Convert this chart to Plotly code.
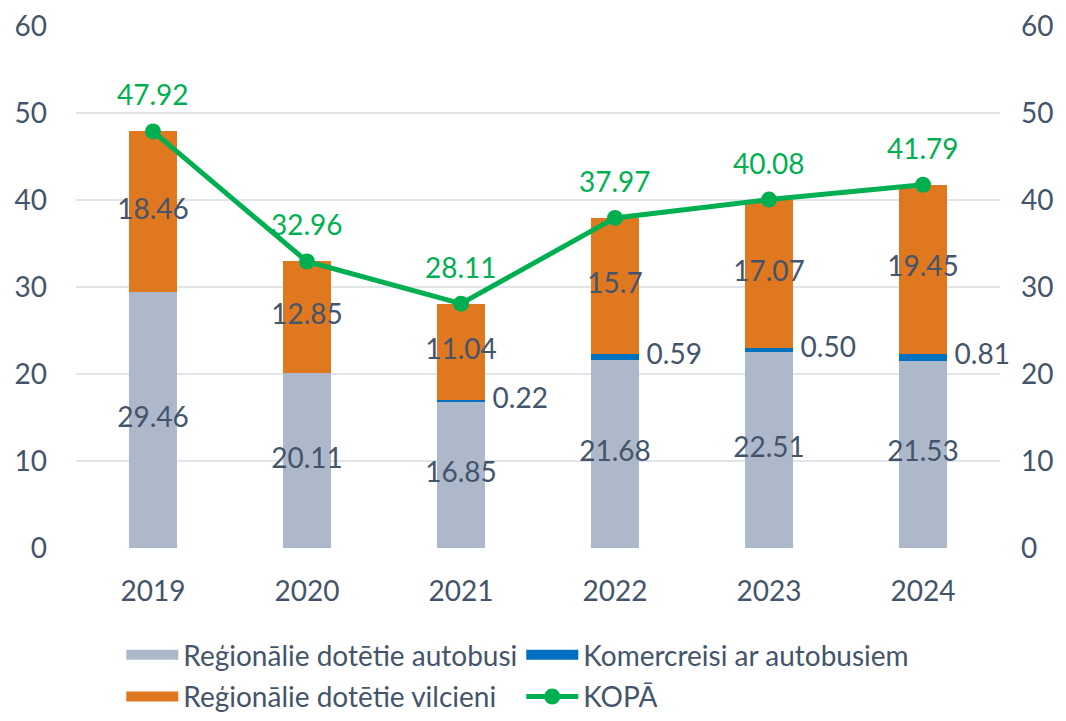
import plotly.graph_objects as go

# ---- Dati ----
gadi = ["2019", "2020", "2021", "2022", "2023", "2024"]
autobusi = [29.46, 20.11, 16.85, 21.68, 22.51, 21.53]
komercreisi = [0, 0, 0.22, 0.59, 0.50, 0.81]
vilcieni = [18.46, 12.85, 11.04, 15.7, 17.07, 19.45]
kopa = [47.92, 32.96, 28.11, 37.97, 40.08, 41.79]

# ---- Stils ----
font_family = "Lato"
text_color = "#44546A"
grid_color = "#E1E5EA"
c_bus, c_kom, c_vil, c_kopa = "#ADB9CA", "#0070C0", "#E07820", "#00B050"
bar_width = 0.31
fs = 28

x = list(range(len(gadi)))

fig = go.Figure()
fig.add_bar(x=x, y=autobusi, name="Reģionālie dotētie autobusi", showlegend=False,
            marker_color=c_bus, width=bar_width, marker_line_width=0)
fig.add_bar(x=x, y=komercreisi, name="Komercreisi ar autobusiem", showlegend=False,
            marker_color=c_kom, width=bar_width, marker_line_width=0)
fig.add_bar(x=x, y=vilcieni, name="Reģionālie dotētie vilcieni", showlegend=False,
            marker_color=c_vil, width=bar_width, marker_line_width=0)
fig.add_scatter(x=x, y=kopa, name="KOPĀ", mode="lines+markers", showlegend=False,
                line=dict(color=c_kopa, width=5), marker=dict(size=16, color=c_kopa))

# ---- Leģenda (platas krāsu joslas) ----
fig.add_scatter(x=[None], y=[None], mode="lines", name="Reģionālie dotētie autobusi",
                line=dict(color=c_bus, width=20), legend="legend")
fig.add_scatter(x=[None], y=[None], mode="lines", name="Komercreisi ar autobusiem",
                line=dict(color=c_kom, width=20), legend="legend")
fig.add_scatter(x=[None], y=[None], mode="lines", name="Reģionālie dotētie vilcieni",
                line=dict(color=c_vil, width=20), legend="legend2")
fig.add_scatter(x=[None], y=[None], mode="lines+markers", name="KOPĀ",
                line=dict(color=c_kopa, width=5), marker=dict(size=16, color=c_kopa),
                legend="legend2")

# ---- Datu etiķetes ----
fig.add_scatter(x=x, y=[a / 2 for a in autobusi], mode="text",
                text=[f"{v:.2f}" for v in autobusi], showlegend=False, hoverinfo="skip",
                textfont=dict(color=text_color, size=fs, family=font_family))
fig.add_scatter(x=x, y=[a + k + v / 2 for a, k, v in zip(autobusi, komercreisi, vilcieni)],
                mode="text", text=[f"{v:g}" if v == 15.7 else f"{v:.2f}" for v in vilcieni],
                showlegend=False, hoverinfo="skip",
                textfont=dict(color=text_color, size=fs, family=font_family))
kx = [i + bar_width / 2 + 0.05 for i, k in zip(x, komercreisi) if k > 0]
ky = [a + k / 2 for a, k in zip(autobusi, komercreisi) if k > 0]
kt = [f"{k:.2f}" for k in komercreisi if k > 0]
fig.add_scatter(x=kx, y=ky, mode="text", text=kt, textposition="middle right",
                showlegend=False, hoverinfo="skip", cliponaxis=False,
                textfont=dict(color=text_color, size=fs, family=font_family))

for i, v in zip(x, kopa):
    fig.add_annotation(x=i, y=v, text=f"{v:.2f}", showarrow=False, yshift=37,
                       font=dict(color=c_kopa, size=fs, family=font_family))

# labā ass tikai skalai
fig.add_scatter(x=[0], y=[0], yaxis="y2", mode="markers", marker_opacity=0,
                showlegend=False, hoverinfo="skip")

leg = dict(orientation="h", xanchor="left", yanchor="middle", entrywidth=333,
           traceorder="normal", font=dict(size=fs, color=text_color), itemwidth=52,
           bgcolor="rgba(0,0,0,0)")

fig.update_layout(
    barmode="stack",
    width=1050, height=705,
    margin=dict(l=68, r=58, t=18, b=165, autoexpand=False),
    plot_bgcolor="white", paper_bgcolor="white",
    font=dict(family=font_family, color=text_color, size=fs),
    xaxis=dict(tickvals=x, ticktext=gadi, range=[-0.5, 5.5], showgrid=False,
               zeroline=False, showline=False, ticks="", ticklabelstandoff=24),
    yaxis=dict(range=[0, 60.05], tickvals=[0, 10, 20, 30, 40, 50, 60],
               gridcolor=grid_color, gridwidth=2,
               zeroline=False, ticks="", ticklabelstandoff=28),
    yaxis2=dict(range=[0, 60.05], tickvals=[0, 10, 20, 30, 40, 50, 60],
                overlaying="y", side="right",
                showgrid=False, zeroline=False, ticks="", ticklabelstandoff=20),
    legend=dict(leg, x=0.049, y=-0.205),
    legend2=dict(leg, x=0.049, y=-0.285),
    showlegend=True,
)

fig.write_html("out.html")
